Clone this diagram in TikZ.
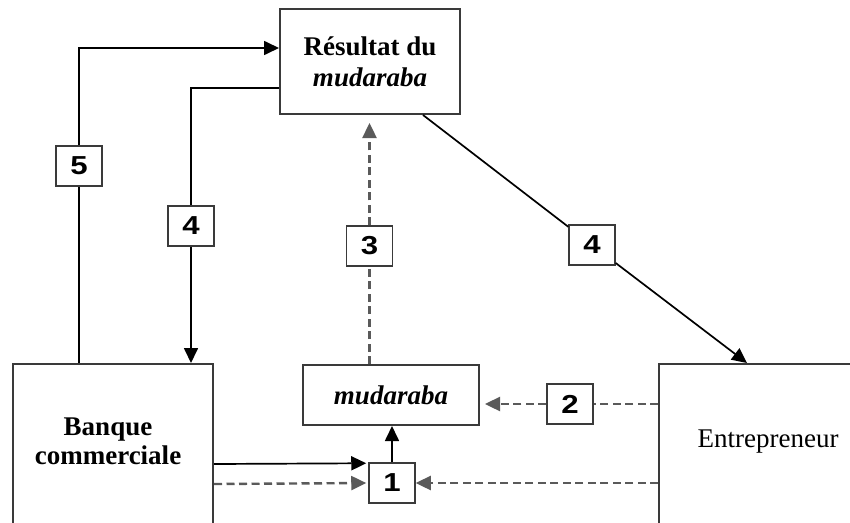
\documentclass[tikz,border=0pt]{standalone}
\usepackage{fontspec}
\setmainfont{Liberation Serif}
\newfontfamily\numfont{Liberation Sans}
\usetikzlibrary{arrows.meta,calc}
\definecolor{boxgray}{HTML}{3A3A3A}
\definecolor{dashgray}{HTML}{5A5A5A}
\newcommand{\dig}[1]{\scalebox{1.2}[1]{#1}}
\tikzset{
  bigbox/.style={draw=boxgray, line width=2pt, fill=white, inner sep=0pt},
  lbl/.style={draw=boxgray, line width=1.5pt, fill=white, minimum width=46pt, minimum height=40pt, inner sep=0pt, font=\numfont\bfseries\fontsize{26}{26}\selectfont},
  txt/.style={align=center, font=\fontsize{27}{31}\selectfont},
  solidarr/.style={draw=black, line width=1.7pt},
  dasharr/.style={draw=dashgray, line width=2.4pt, dash pattern=on 8pt off 4.5pt},
  tip/.style={-{Triangle[length=15pt,width=14pt]}}
}
\begin{document}
\begin{tikzpicture}[x=1pt,y=-1pt]
\useasboundingbox (0,0) rectangle (850,522);
\clip (0,0) rectangle (850,522);
\fill[white] (0,0) rectangle (850,522);
% boxes
\node[bigbox, minimum width=180pt, minimum height=105pt, txt] (res) at (370,61.5) {\textbf{Résultat du}\\\textbf{\textit{mudaraba}}};
\node[bigbox, minimum width=200pt, minimum height=176pt] (banque) at (113,452) {};
\node[txt] (banqueT) at (108,441) {\textbf{Banque}\\[-2pt]\textbf{commerciale}};
\node[bigbox, minimum width=176pt, minimum height=60pt, txt] (mud) at (391,395) {\textbf{\textit{mudaraba}}};
\node[bigbox, minimum width=221pt, minimum height=176pt] (ent) at (769.5,452) {};
\node[txt] (entT) at (768,442) {Entrepreneur};
\node[lbl] (b1) at (392,483) {\dig{1}};
% labels
\node[lbl] (l5) at (79,166) {\dig{5}};
\node[lbl] (l4a) at (191,226) {\dig{4}};
\node[lbl] (l3) at (369.5,246) {\dig{3}};
\node[lbl] (l4b) at (592,245) {\dig{4}};
\node[lbl] (l2) at (570,404) {\dig{2}};
% 5
\draw[solidarr] (l5.south |- banque.north) -- (l5.south);
\draw[solidarr,tip] (l5.north) |- ([yshift=13.5pt]res.west);
% 4 left
\draw[solidarr] ([yshift=-26.5pt]res.west) -| (l4a.north);
\draw[solidarr,tip] (l4a.south) -- (l4a.south |- banque.north);
% 4 right
\draw[solidarr] ([xshift=53pt]res.south) -- (l4b);
\draw[solidarr,tip] (l4b) -- ([xshift=-22.5pt]ent.north);
% 3
\draw[dasharr] (l3.south |- mud.north) -- (l3.south);
\draw[dasharr,tip,shorten >=8pt] (l3.north) -- (l3.north |- res.south);
% 2
\draw[dasharr] ([yshift=48pt]ent.west) -- (l2.east);
\draw[dasharr,tip,shorten >=5pt] (l2.west) -- (l2.west -| mud.east);
% 1
\draw[solidarr,tip] ([yshift=-12pt]banque.east) -- ([xshift=-2pt,yshift=-1pt]b1.north west);
\draw[dasharr,tip,shorten >=2pt] ([yshift=-32pt]banque.east) -- (b1.west);
\draw[dasharr,tip] ([yshift=-31pt]ent.west) -- (b1.east);
\draw[solidarr,tip] (b1.north) -- (b1.north |- mud.south);
\end{tikzpicture}
\end{document}
